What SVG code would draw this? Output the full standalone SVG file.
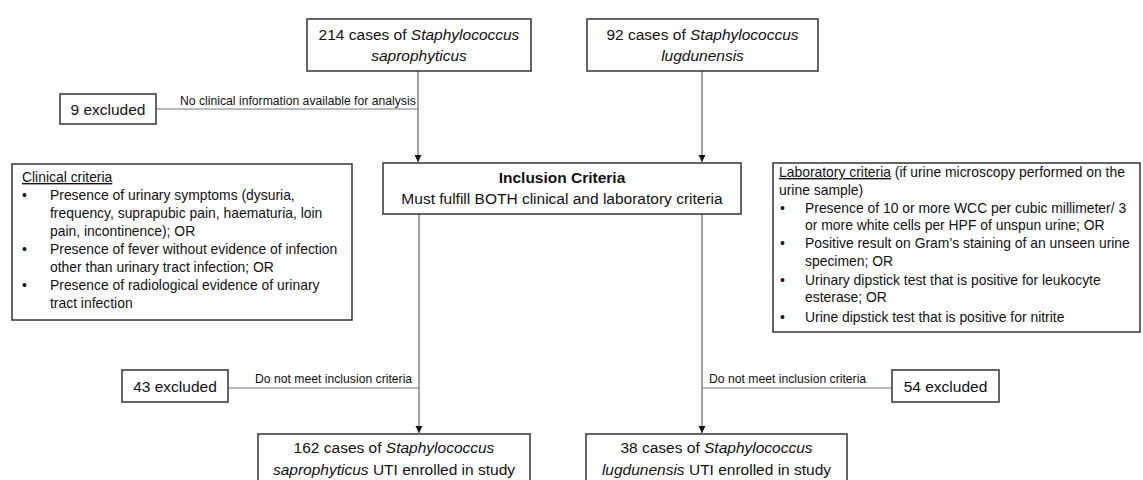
<svg xmlns="http://www.w3.org/2000/svg" width="1143" height="480" viewBox="0 0 1143 480">
<style>
  text { font-family: "Liberation Sans", Arial, sans-serif; fill: #111; }
  .box { fill: #fff; stroke: #333; stroke-width: 1.5; }
  .main { font-size: 15.5px; text-anchor: middle; }
  .crit { font-size: 13.9px; }
  .lbl { font-size: 12.2px; }
  .conn { stroke: #444; stroke-width: 1; fill: none; }
  .side { stroke: #777; stroke-width: 1; fill: none; }
  .u { text-decoration: underline; }
</style>
<defs>
  <marker id="arr" markerWidth="8" markerHeight="8" refX="7" refY="4" orient="auto" markerUnits="userSpaceOnUse">
    <path d="M0,0.5 L7,4 L0,7.5 Z" fill="#111"/>
  </marker>
</defs>

<g id="connectors">
  <line class="conn" x1="418" y1="71" x2="418" y2="162" marker-end="url(#arr)"/>
  <line class="conn" x1="702" y1="71" x2="702" y2="162" marker-end="url(#arr)"/>
  <line class="side" x1="156" y1="109" x2="418" y2="109"/>
  <text class="lbl" x="180" y="105">No clinical information available for analysis</text>
  <line class="conn" x1="419" y1="214" x2="419" y2="433" marker-end="url(#arr)"/>
  <line class="conn" x1="702" y1="214" x2="702" y2="433" marker-end="url(#arr)"/>
  <line class="side" x1="228" y1="388" x2="419" y2="388"/>
  <text class="lbl" x="255" y="383">Do not meet inclusion criteria</text>
  <line class="side" x1="702" y1="388" x2="892" y2="388"/>
  <text class="lbl" x="709" y="383">Do not meet inclusion criteria</text>
</g>

<g id="n214">
  <rect class="box" x="307" y="19" width="224" height="52"/>
  <text class="main" x="419" y="40">214 cases of <tspan font-style="italic">Staphylococcus</tspan></text>
  <text class="main" x="419" y="61" font-style="italic">saprophyticus</text>
</g>

<g id="n92">
  <rect class="box" x="587" y="19" width="231" height="52"/>
  <text class="main" x="702.5" y="40">92 cases of <tspan font-style="italic">Staphylococcus</tspan></text>
  <text class="main" x="702.5" y="61" font-style="italic">lugdunensis</text>
</g>

<g id="excl9">
  <rect class="box" x="60" y="94" width="96" height="30"/>
  <text class="main" x="108" y="115">9 excluded</text>
</g>

<g id="clinical">
  <rect class="box" x="12" y="164" width="340" height="156"/>
  <text class="crit u" x="22" y="182">Clinical criteria</text>
  <text class="crit" x="22" y="200">•</text>
  <text class="crit" x="50" y="200">Presence of urinary symptoms (dysuria,</text>
  <text class="crit" x="50" y="218">frequency, suprapubic pain, haematuria, loin</text>
  <text class="crit" x="50" y="236">pain, incontinence); OR</text>
  <text class="crit" x="22" y="254">•</text>
  <text class="crit" x="50" y="254">Presence of fever without evidence of infection</text>
  <text class="crit" x="50" y="272">other than urinary tract infection; OR</text>
  <text class="crit" x="22" y="290">•</text>
  <text class="crit" x="50" y="290">Presence of radiological evidence of urinary</text>
  <text class="crit" x="50" y="308">tract infection</text>
</g>

<g id="inclusion">
  <rect class="box" x="383" y="163" width="358" height="51"/>
  <text class="main" x="562" y="183" font-weight="bold" font-size="15px">Inclusion Criteria</text>
  <text class="main" x="562" y="204" font-size="16.3px">Must fulfill BOTH clinical and laboratory criteria</text>
</g>

<g id="laboratory">
  <rect class="box" x="773" y="163" width="367" height="169"/>
  <text class="crit" x="779" y="177"><tspan class="u">Laboratory criteria</tspan> (if urine microscopy performed on the</text>
  <text class="crit" x="779" y="195">urine sample)</text>
  <text class="crit" x="780" y="213">•</text>
  <text class="crit" x="805" y="213">Presence of 10 or more WCC per cubic millimeter/ 3</text>
  <text class="crit" x="805" y="230">or more white cells per HPF of unspun urine; OR</text>
  <text class="crit" x="780" y="248">•</text>
  <text class="crit" x="805" y="248">Positive result on Gram’s staining of an unseen urine</text>
  <text class="crit" x="805" y="266">specimen; OR</text>
  <text class="crit" x="780" y="285">•</text>
  <text class="crit" x="805" y="285">Urinary dipstick test that is positive for leukocyte</text>
  <text class="crit" x="805" y="302">esterase; OR</text>
  <text class="crit" x="780" y="322">•</text>
  <text class="crit" x="805" y="322">Urine dipstick test that is positive for nitrite</text>
</g>

<g id="excl43">
  <rect class="box" x="122" y="370" width="106" height="32"/>
  <text class="main" x="175" y="392">43 excluded</text>
</g>

<g id="excl54">
  <rect class="box" x="892" y="370" width="107" height="32"/>
  <text class="main" x="945.5" y="392">54 excluded</text>
</g>

<g id="n162">
  <rect class="box" x="258" y="434" width="272" height="50"/>
  <text class="main" x="394" y="453">162 cases of <tspan font-style="italic">Staphylococcus</tspan></text>
  <text class="main" x="394" y="475"><tspan font-style="italic">saprophyticus</tspan> UTI enrolled in study</text>
</g>

<g id="n38">
  <rect class="box" x="586" y="434" width="261" height="50"/>
  <text class="main" x="716.5" y="453">38 cases of <tspan font-style="italic">Staphylococcus</tspan></text>
  <text class="main" x="716.5" y="475"><tspan font-style="italic">lugdunensis</tspan> UTI enrolled in study</text>
</g>
</svg>
